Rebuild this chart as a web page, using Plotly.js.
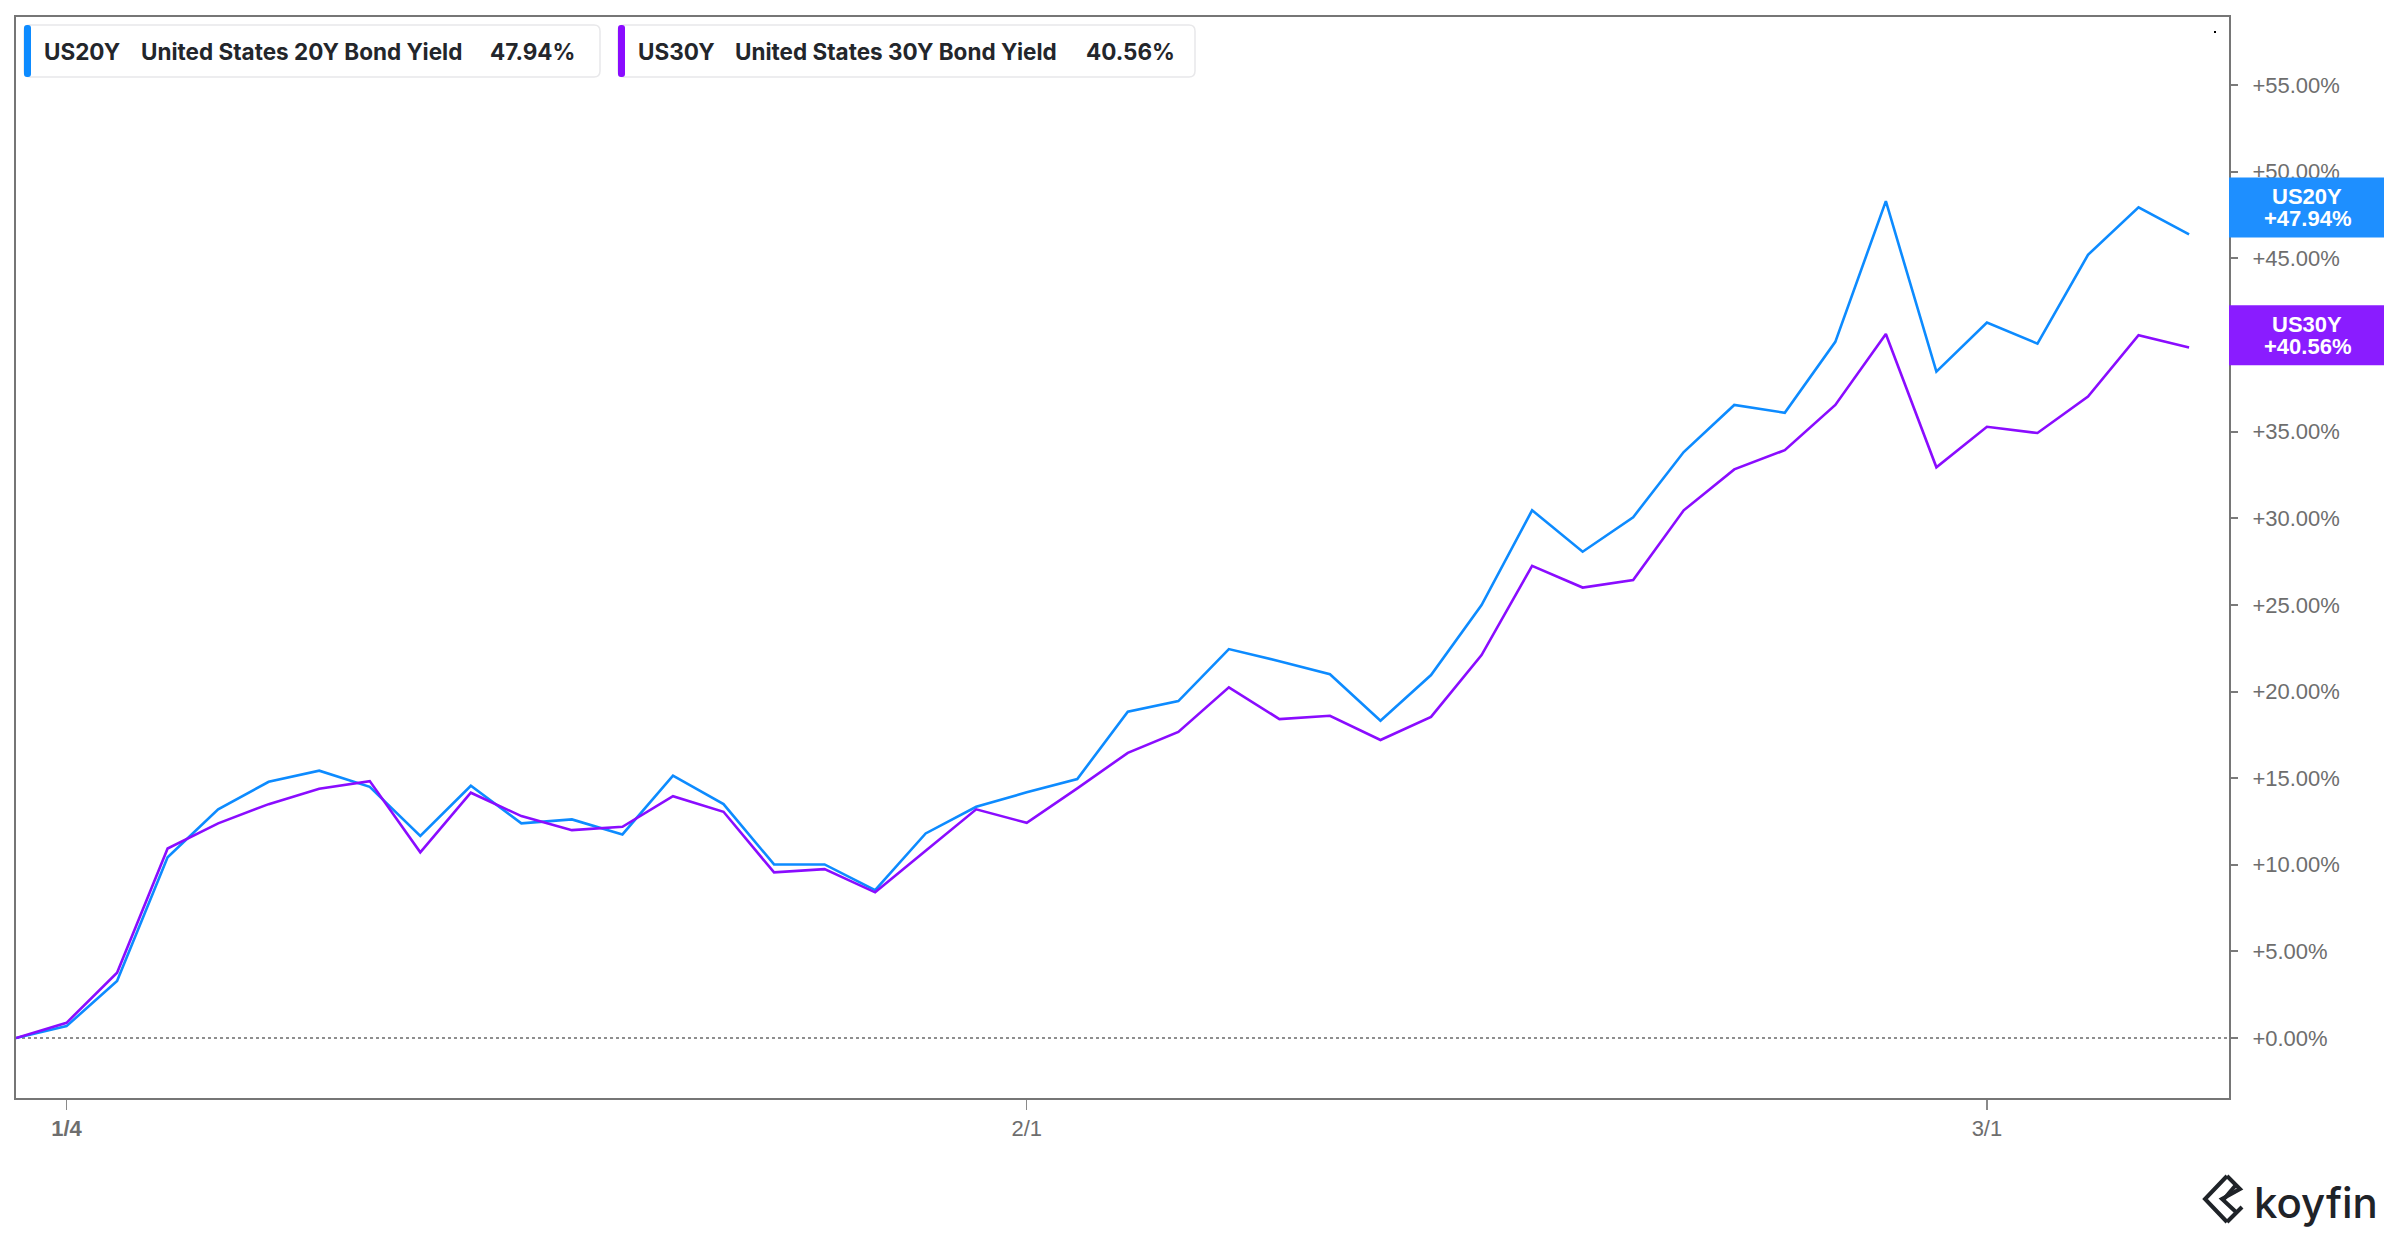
<!DOCTYPE html>
<html>
<head>
<meta charset="utf-8">
<script src="https://cdn.plot.ly/plotly-3.0.1.min.js"></script>
<style>
html,body{margin:0;padding:0;background:#fff;}
#chart{width:2400px;height:1240px;}
</style>
</head>
<body>
<div id="chart"></div>
<script>
// ---- data ----
const dates = ['2020-12-31','2021-01-04','2021-01-05','2021-01-06','2021-01-07','2021-01-08','2021-01-11','2021-01-12','2021-01-13','2021-01-14','2021-01-15','2021-01-19','2021-01-20','2021-01-21','2021-01-22','2021-01-25','2021-01-26','2021-01-27','2021-01-28','2021-01-29','2021-02-01','2021-02-02','2021-02-03','2021-02-04','2021-02-05','2021-02-08','2021-02-09','2021-02-10','2021-02-11','2021-02-12','2021-02-16','2021-02-17','2021-02-18','2021-02-19','2021-02-22','2021-02-23','2021-02-24','2021-02-25','2021-02-26','2021-03-01','2021-03-02','2021-03-03','2021-03-04','2021-03-05'];
const us20y = [0,0.69,3.29,10.43,13.2,14.79,15.43,14.5,11.66,14.56,12.39,12.62,11.75,15.14,13.5,10.02,10.02,8.54,11.81,13.35,14.18,14.95,18.83,19.45,22.45,21.75,21.0,18.31,20.95,24.99,30.46,28.07,30.06,33.82,36.54,36.09,40.18,48.3,38.46,41.29,40.08,45.2,47.94,46.38];
const us30y = [0,0.88,3.77,10.94,12.39,13.5,14.39,14.83,10.72,14.16,12.81,12.0,12.19,13.96,13.06,9.56,9.75,8.41,10.81,13.2,12.42,14.41,16.46,17.67,20.24,18.41,18.6,17.2,18.54,22.1,27.25,26.0,26.43,30.46,32.82,33.93,36.54,40.63,32.94,35.28,34.92,37.02,40.56,39.86];
const tickDates = ['2021-01-04','2021-02-01','2021-03-01'];
const tickLabels = ['<b>1/4</b>','2/1','3/1'];
const yTickValues = [0,5,10,15,20,25,30,35,40,45,50,55];
const yTickLabels = ['+0.00%','+5.00%','+10.00%','+15.00%','+20.00%','+25.00%','+30.00%','+35.00%','+40.00%','+45.00%','+50.00%','+55.00%'];
const seriesCodes = ['US20Y','US30Y'];
const seriesNames = ['United States 20Y Bond Yield','United States 30Y Bond Yield'];
const lastValues = [47.94, 40.56];
const lastLabels = ['+47.94%','+40.56%'];
const legendValues = ['47.94%','40.56%'];

// ---- style ----
const W = 2400, H = 1240;
const M = {l:16, r:171, t:17, b:142};
const PW = W - M.l - M.r, PH = H - M.t - M.b;
const px = x => (x - M.l) / PW;
const py = y => 1 - (y - M.t) / PH;
const lineColors = ['#0d8bff', '#8a0cff'];
const boxColors = ['#1e8fff', '#8a1cff'];
const axisFont = 'Liberation Sans, Arial, sans-serif';
const uiFont = 'Inter, Roboto, sans-serif';

const traces = seriesCodes.map((c, i) => ({
  type: 'scatter', mode: 'lines', x: dates, y: i === 0 ? us20y : us30y,
  line: {color: lineColors[i], width: 2.6}, name: c, hoverinfo: 'skip'
}));

const shapes = [];
const annotations = [];

// zero dotted line
shapes.push({type:'line', xref:'paper', x0:0, x1:1, yref:'y', y0:0, y1:0, layer:'below',
  line:{color:'#6a6a6a', width:1.6, dash:'dot'}});

// legend boxes
function roundRectPath(x0, y0, x1, y1, r) {
  const P = (x, y) => px(x) + ',' + py(y);
  return 'M' + P(x0 + r, y0) + ' L' + P(x1 - r, y0) + ' Q' + P(x1, y0) + ' ' + P(x1, y0 + r) +
    ' L' + P(x1, y1 - r) + ' Q' + P(x1, y1) + ' ' + P(x1 - r, y1) +
    ' L' + P(x0 + r, y1) + ' Q' + P(x0, y1) + ' ' + P(x0, y1 - r) +
    ' L' + P(x0, y0 + r) + ' Q' + P(x0, y0) + ' ' + P(x0 + r, y0) + ' Z';
}
const legendBoxes = [{x0:24, x1:600, codeX:42, nameX:139, valX:488},
                     {x0:618, x1:1195, codeX:636, nameX:733, valX:1084}];
legendBoxes.forEach((b, i) => {
  shapes.push({type:'path', xref:'paper', yref:'paper', path: roundRectPath(b.x0, 25, b.x1, 77, 6),
    fillcolor:'#ffffff', line:{color:'#e8e8ea', width:1.5}});
  shapes.push({type:'path', xref:'paper', yref:'paper', path: roundRectPath(b.x0, 25, b.x0 + 7, 77, 3),
    fillcolor: lineColors[i], line:{width:0}});
  const f = {family: uiFont, size: 22.5, color: '#23262b', weight: 700};
  annotations.push({xref:'paper', yref:'paper', x: px(b.codeX), y: py(51), xanchor:'left', yanchor:'middle',
    text: seriesCodes[i], showarrow:false, font:f});
  annotations.push({xref:'paper', yref:'paper', x: px(b.nameX), y: py(51), xanchor:'left', yanchor:'middle',
    text: seriesNames[i], showarrow:false, font:f});
  annotations.push({xref:'paper', yref:'paper', x: px(b.valX), y: py(51), xanchor:'left', yanchor:'middle',
    text: legendValues[i], showarrow:false, font:f});
});

// right-side value labels
lastValues.forEach((v, i) => {
  shapes.push({type:'rect', xref:'paper', x0:1, x1: px(2384), yref:'y', ysizemode:'pixel', yanchor: v,
    y0:-30, y1:30, fillcolor: boxColors[i], line:{width:0}, layer:'above'});
  const f = {family: axisFont, size: 22, color: '#ffffff', weight: 700};
  annotations.push({xref:'paper', yref:'y', x: px(2307), y: v, yshift: 11, xanchor:'center', yanchor:'middle',
    text: seriesCodes[i], showarrow:false, font:f});
  annotations.push({xref:'paper', yref:'y', x: px(2307), y: v, yshift: -11, xanchor:'center', yanchor:'middle',
    text: lastLabels[i], showarrow:false, font:f});
});

// tiny dot top-right
shapes.push({type:'rect', xref:'paper', yref:'paper', x0:px(2214), x1:px(2216), y0:py(33), y1:py(31),
  fillcolor:'#000', line:{width:0}});

// koyfin logo
annotations.push({xref:'paper', yref:'paper', x: px(2252), y: py(1202), xanchor:'left', yanchor:'middle',
  text:'koyfin', showarrow:false, font:{family: uiFont, size: 42, color:'#1f2328', weight: 500}});
const iconPaths = [
  [[2227,1176],[2205,1199],[2227,1222]],
  [[2227,1176],[2240,1189],[2222,1199],[2236,1212]],
  [[2235,1186],[2224,1199]],
  [[2227,1222],[2242,1207]]
];
iconPaths.forEach(pts => {
  shapes.push({type:'path', xref:'paper', yref:'paper',
    path: pts.map((p, k) => (k ? 'L' : 'M') + px(p[0]) + ',' + py(p[1])).join(' '),
    line:{color:'#1f2328', width:4}});
});

const layout = {
  width: W, height: H, margin: M,
  paper_bgcolor:'#ffffff', plot_bgcolor:'#ffffff',
  showlegend:false, hovermode:false,
  xaxis: {type:'category', range:[0, 43.79], showgrid:false, zeroline:false,
    showline:true, mirror:true, linecolor:'#767676', linewidth:2,
    ticks:'outside', ticklen:10, tickwidth:1.5, tickcolor:'#8a8a8a',
    tickvals: tickDates, ticktext: tickLabels,
    tickfont:{family: axisFont, size:22, color:'#6e6e6e'}},
  yaxis: {side:'right', range:[-3.46, 58.93], showgrid:false, zeroline:false,
    showline:true, mirror:true, linecolor:'#767676', linewidth:2,
    ticks:'outside', ticklen:7, tickwidth:2, tickcolor:'#7a7a7a',
    tickvals: yTickValues, ticktext: yTickLabels, ticklabelstandoff: 10,
    tickfont:{family: axisFont, size:22, color:'#6e6e6e'}},
  shapes: shapes, annotations: annotations
};
Plotly.newPlot('chart', traces, layout, {displayModeBar:false, staticPlot:true});
</script>
</body>
</html>
